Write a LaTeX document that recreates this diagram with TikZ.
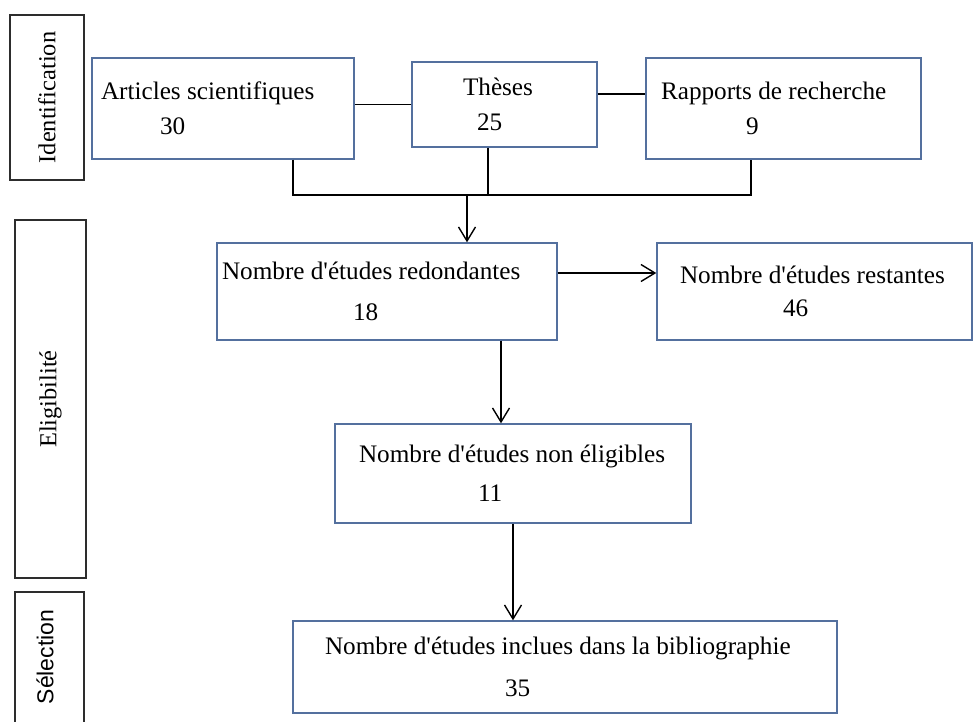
\documentclass[tikz,border=0pt]{standalone}
\usepackage{fontspec}
\setmainfont{Liberation Serif}
\newfontfamily\selfont{Liberation Sans}
\usetikzlibrary{arrows.meta,positioning,calc}
\definecolor{boxblue}{RGB}{84,112,158}
\definecolor{sidegray}{RGB}{45,45,45}
\newcommand{\ap}{\textquotesingle}
\tikzset{
	box/.style={draw=boxblue, line width=0.7pt},
	sidebox/.style={draw=sidegray, line width=0.8pt, rotate=90,
		font=\fontsize{12.2}{14}\selectfont},
	txt/.style={inner sep=0pt, align=left, anchor=west,
		font=\fontsize{12.6}{17.5}\selectfont},
	arr/.style={-{Straight Barb[length=7pt,width=8.5pt]}}
}

\begin{document}
\begin{tikzpicture}[x=0.5pt,y=-0.5pt,line width=0.7pt]
	\useasboundingbox (0,0) rectangle (974,722);
	\clip (0,0) rectangle (974,722);
	
	% phases on the left
	\node[sidebox,
	minimum width=82.5pt,
	minimum height=37pt] (ident) at (47,97.5) {Identification};
	\node[sidebox,
	minimum width=179pt,
	minimum height=35.5pt] (elig) at (50.5,399) {Eligibilité};
	\node[sidebox,
	minimum width=84pt,
	minimum height=34.5pt] (selec) at (49.5,676) {};
	\node[rotate=90, inner sep=0pt,
	font=\selfont\fontsize{11.5}{13}\selectfont] (selec-t) at (45,657) {Sélection};
	
	% identification boxes
	\node[box,
	minimum width=131pt,
	minimum height=50.5pt] (art) at (223,108.5) {};
	\node[txt, right=4.5pt of art.west] (art-t) {Articles scientifiques\\\hspace*{29.5pt}30};
	\node[box,
	minimum width=92.5pt,
	minimum height=42.5pt] (these) at (504.5,104.5) {};
	\node[txt, right=25.5pt of these.west] (these-t) {Thèses\\\hspace*{7pt}25};
	\node[box,
	minimum width=137.5pt,
	minimum height=50.5pt] (rap) at (783.5,108.5) {};
	\node[txt, right=7.5pt of rap.west] (rap-t) {Rapports de recherche\\\hspace*{42.5pt}9};
	
	% eligibility boxes
	\node[box,
	minimum width=170pt,
	minimum height=48.5pt] (redo) at (387,291.5) {};
	\node[txt, right=2.5pt of redo.west] (redo-t) {Nombre d\ap études redondantes\\[3pt]\hspace*{65.5pt}18};
	\node[box,
	minimum width=157.5pt,
	minimum height=48.5pt] (rest) at (814.5,291.5) {};
	\node[txt, right=11.5pt of rest.west] (rest-t) {Nombre d\ap études restantes\\[-1pt]\hspace*{51.5pt}46};
	\node[box,
	minimum width=178pt,
	minimum height=49.5pt] (nonel) at (513,473.5) {};
	\node[txt, right=12pt of nonel.west] (nonel-t) {Nombre d\ap études non éligibles\\[2pt]\hspace*{59.5pt}11};
	
	% selection box
	\node[box,
	minimum width=272pt,
	minimum height=46pt] (incl) at (565,667) {};
	\node[txt, right=16pt of incl.west] (incl-t) {Nombre d\ap études inclues dans la bibliographie\\[3.5pt]\hspace*{90pt}35};
	
	% Lines
	\draw (these.west) -- (these.west -| art.east);
	\path ($(these.east)+(0,-10.5)$) coordinate (th-r);
	\draw (th-r) -- (th-r -| rap.west);
	\coordinate (jn) at (467,195);
	\draw ($(art.south)+(70,0)$) |- (jn) -| ($(rap.south)+(-32.5,0)$);
	\draw ($(these.south)+(-16.5,0)$) |- (jn);
	
	% Arrows
	\draw[arr] (jn) -- (jn |- redo.north);
	\path ($(redo.east)+(0,-18.5)$) coordinate (rd-r);
	\draw[arr] (rd-r) -- (rd-r -| rest.west);
	\path ($(nonel.north)+(-12,0)$) coordinate (ne-in);
	\draw[arr] (ne-in |- redo.south) -- (ne-in);
	\draw[arr] (nonel.south) -- (nonel.south |- incl.north);
\end{tikzpicture}
\end{document}
